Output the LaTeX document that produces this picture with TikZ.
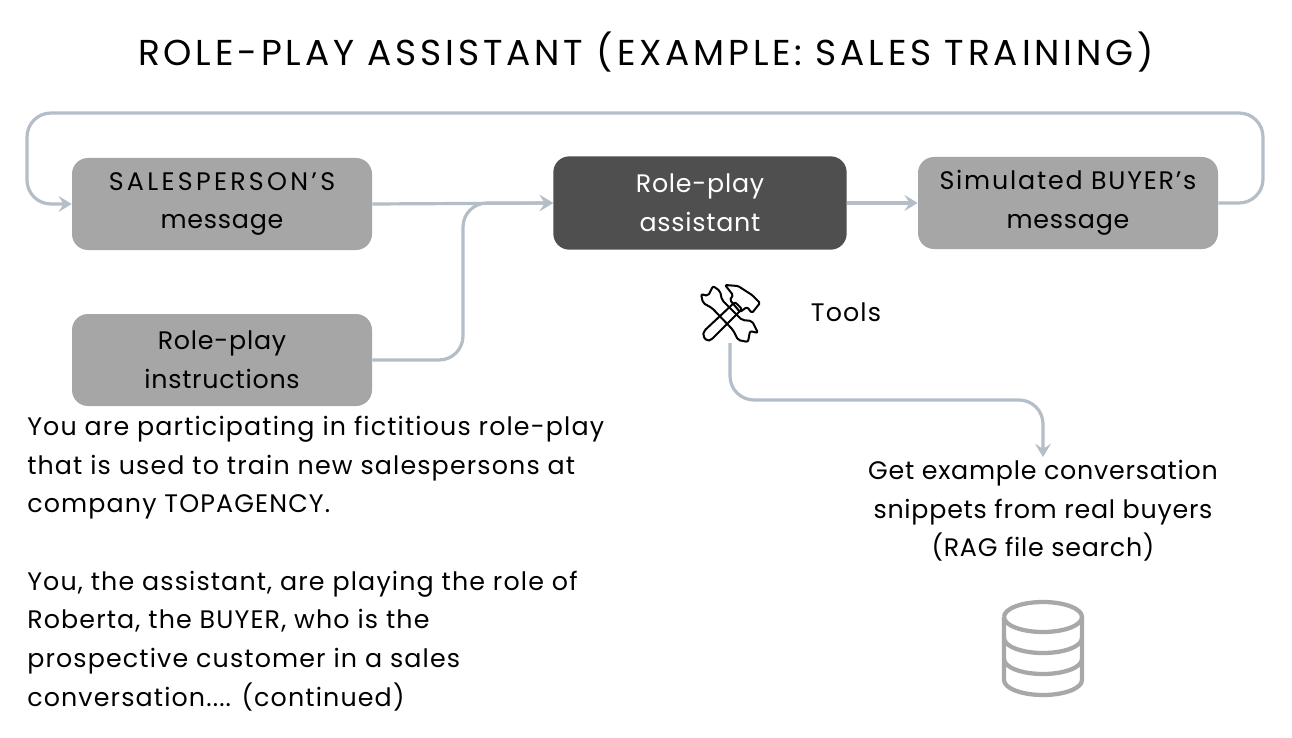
\documentclass[tikz,border=0pt]{standalone}
\usepackage{fontspec}
\setmainfont{Poppins}
\newfontfamily\handa[LetterSpace=4.5]{Poppins}
\newfontfamily\handb[LetterSpace=3]{Poppins}
\newfontfamily\handc[LetterSpace=10.6]{Poppins}
\newfontfamily\handd[LetterSpace=13]{Poppins}
\newfontfamily\hande[LetterSpace=7]{Poppins}
\usetikzlibrary{arrows.meta}
\definecolor{lk}{HTML}{B4BEC8}
\definecolor{gb}{HTML}{A6A6A6}
\definecolor{db}{HTML}{4F4F4F}
\definecolor{ic}{HTML}{A8A8A8}
\tikzset{x=0.75pt,y=-0.75pt,
 boxn/.style={draw=none,rounded corners=12pt,fill=gb,align=center,font=\handb\fontsize{19}{29}\selectfont,text=black,inner sep=0pt},
 boxd/.style={boxn,fill=db,text=white},
 link/.style={draw=lk,line width=2.4pt,rounded corners=18pt,-{Stealth[length=10pt,width=12pt,inset=4pt]}},
 txt/.style={inner sep=0pt,font=\handa\fontsize{19}{29}\selectfont,text=black}}
\begin{document}
\begin{tikzpicture}
\useasboundingbox (0,0) rectangle (1292,738);
\fill[white] (0,0) rectangle (1292,738);
\node[txt,font=\handc\fontsize{27}{30}\selectfont] (title) at (646,52) {ROLE-PLAY ASSISTANT (EXAMPLE: SALES TRAINING)};
\node[boxn,minimum width=225pt,minimum height=69pt] (sp) at (222,204) {{\handd SALESPERSON’S}\\message};
\node[boxn,minimum width=225pt,minimum height=69pt] (ri) at (222,360) {Role-play\\instructions};
\node[boxd,minimum width=220pt,minimum height=70pt] (ra) at (700,203) {Role-play\\assistant};
\node[boxn,minimum width=225pt,minimum height=69pt] (sb) at (1068,203) {{\hande Simulated BUYER’s}\\message};
\node[txt] (tl) at (846,312) {Tools};
\coordinate (hm) at (730,343);
\draw[link] (sb.east) -- (1263,203) -- (1263,113) -- (27,113) -- (27,204) -- (sp.west);
\draw[link] (sp.east) -- (ra.west);
\draw[link] (ri.east) -- (463,360) -- (463,203) -- (ra.west);
\draw[link] (ra.east) -- (sb.west);
\node[txt,align=center,font=\handb\fontsize{19}{29}\selectfont] (rag) at (1043,511) {Get example conversation\\snippets from real buyers\\(RAG file search)};
\coordinate (ragin) at (1043,457);
\draw[link] (hm) -- (730,400) -- (1043,400) -- (ragin);
\node[txt,align=left,anchor=north west] (para) at (27,416) {You are participating in fictitious role-play\\that is used to train new salespersons at\\company TOPAGENCY.\\[29pt]You, the assistant, are playing the role of\\Roberta, the BUYER, who is the\\prospective customer in a sales\\conversation.... (continued)};
% tools icon
\begin{scope}[line width=1.5pt,draw=black,fill=white,line join=round]
\draw[rounded corners=1.5pt] (722,300) -- (742,320) -- (752,321) -- (758,333) -- (750,331) -- (748,342) -- (738,340) -- (733,330) -- (712,308) -- (703,303) -- (701,294) -- (708,296) -- (713,286) -- (720,291) -- cycle;
\draw[rounded corners=1.5pt] (703,336) -- (707,341) -- (711,340) -- (742,309) -- (735,302) -- (704,331) -- cycle;
\draw[rounded corners=1pt] (725,285) -- (738,286) -- (752,295) -- (760,303) -- (752,313) -- (747,307) -- (740,312) -- (730,300) -- (733,295) -- cycle;
\end{scope}
% database
\begin{scope}[draw=ic,line width=3.2pt]
\draw (1004,617) arc[start angle=180,end angle=-180,x radius=39,y radius=15];
\draw (1004,617) -- (1004,680) arc[start angle=180,end angle=0,x radius=39,y radius=15] -- (1082,617);
\draw (1004,638) arc[start angle=180,end angle=0,x radius=39,y radius=15];
\draw (1004,659) arc[start angle=180,end angle=0,x radius=39,y radius=15];
\end{scope}
\end{tikzpicture}
\end{document}
